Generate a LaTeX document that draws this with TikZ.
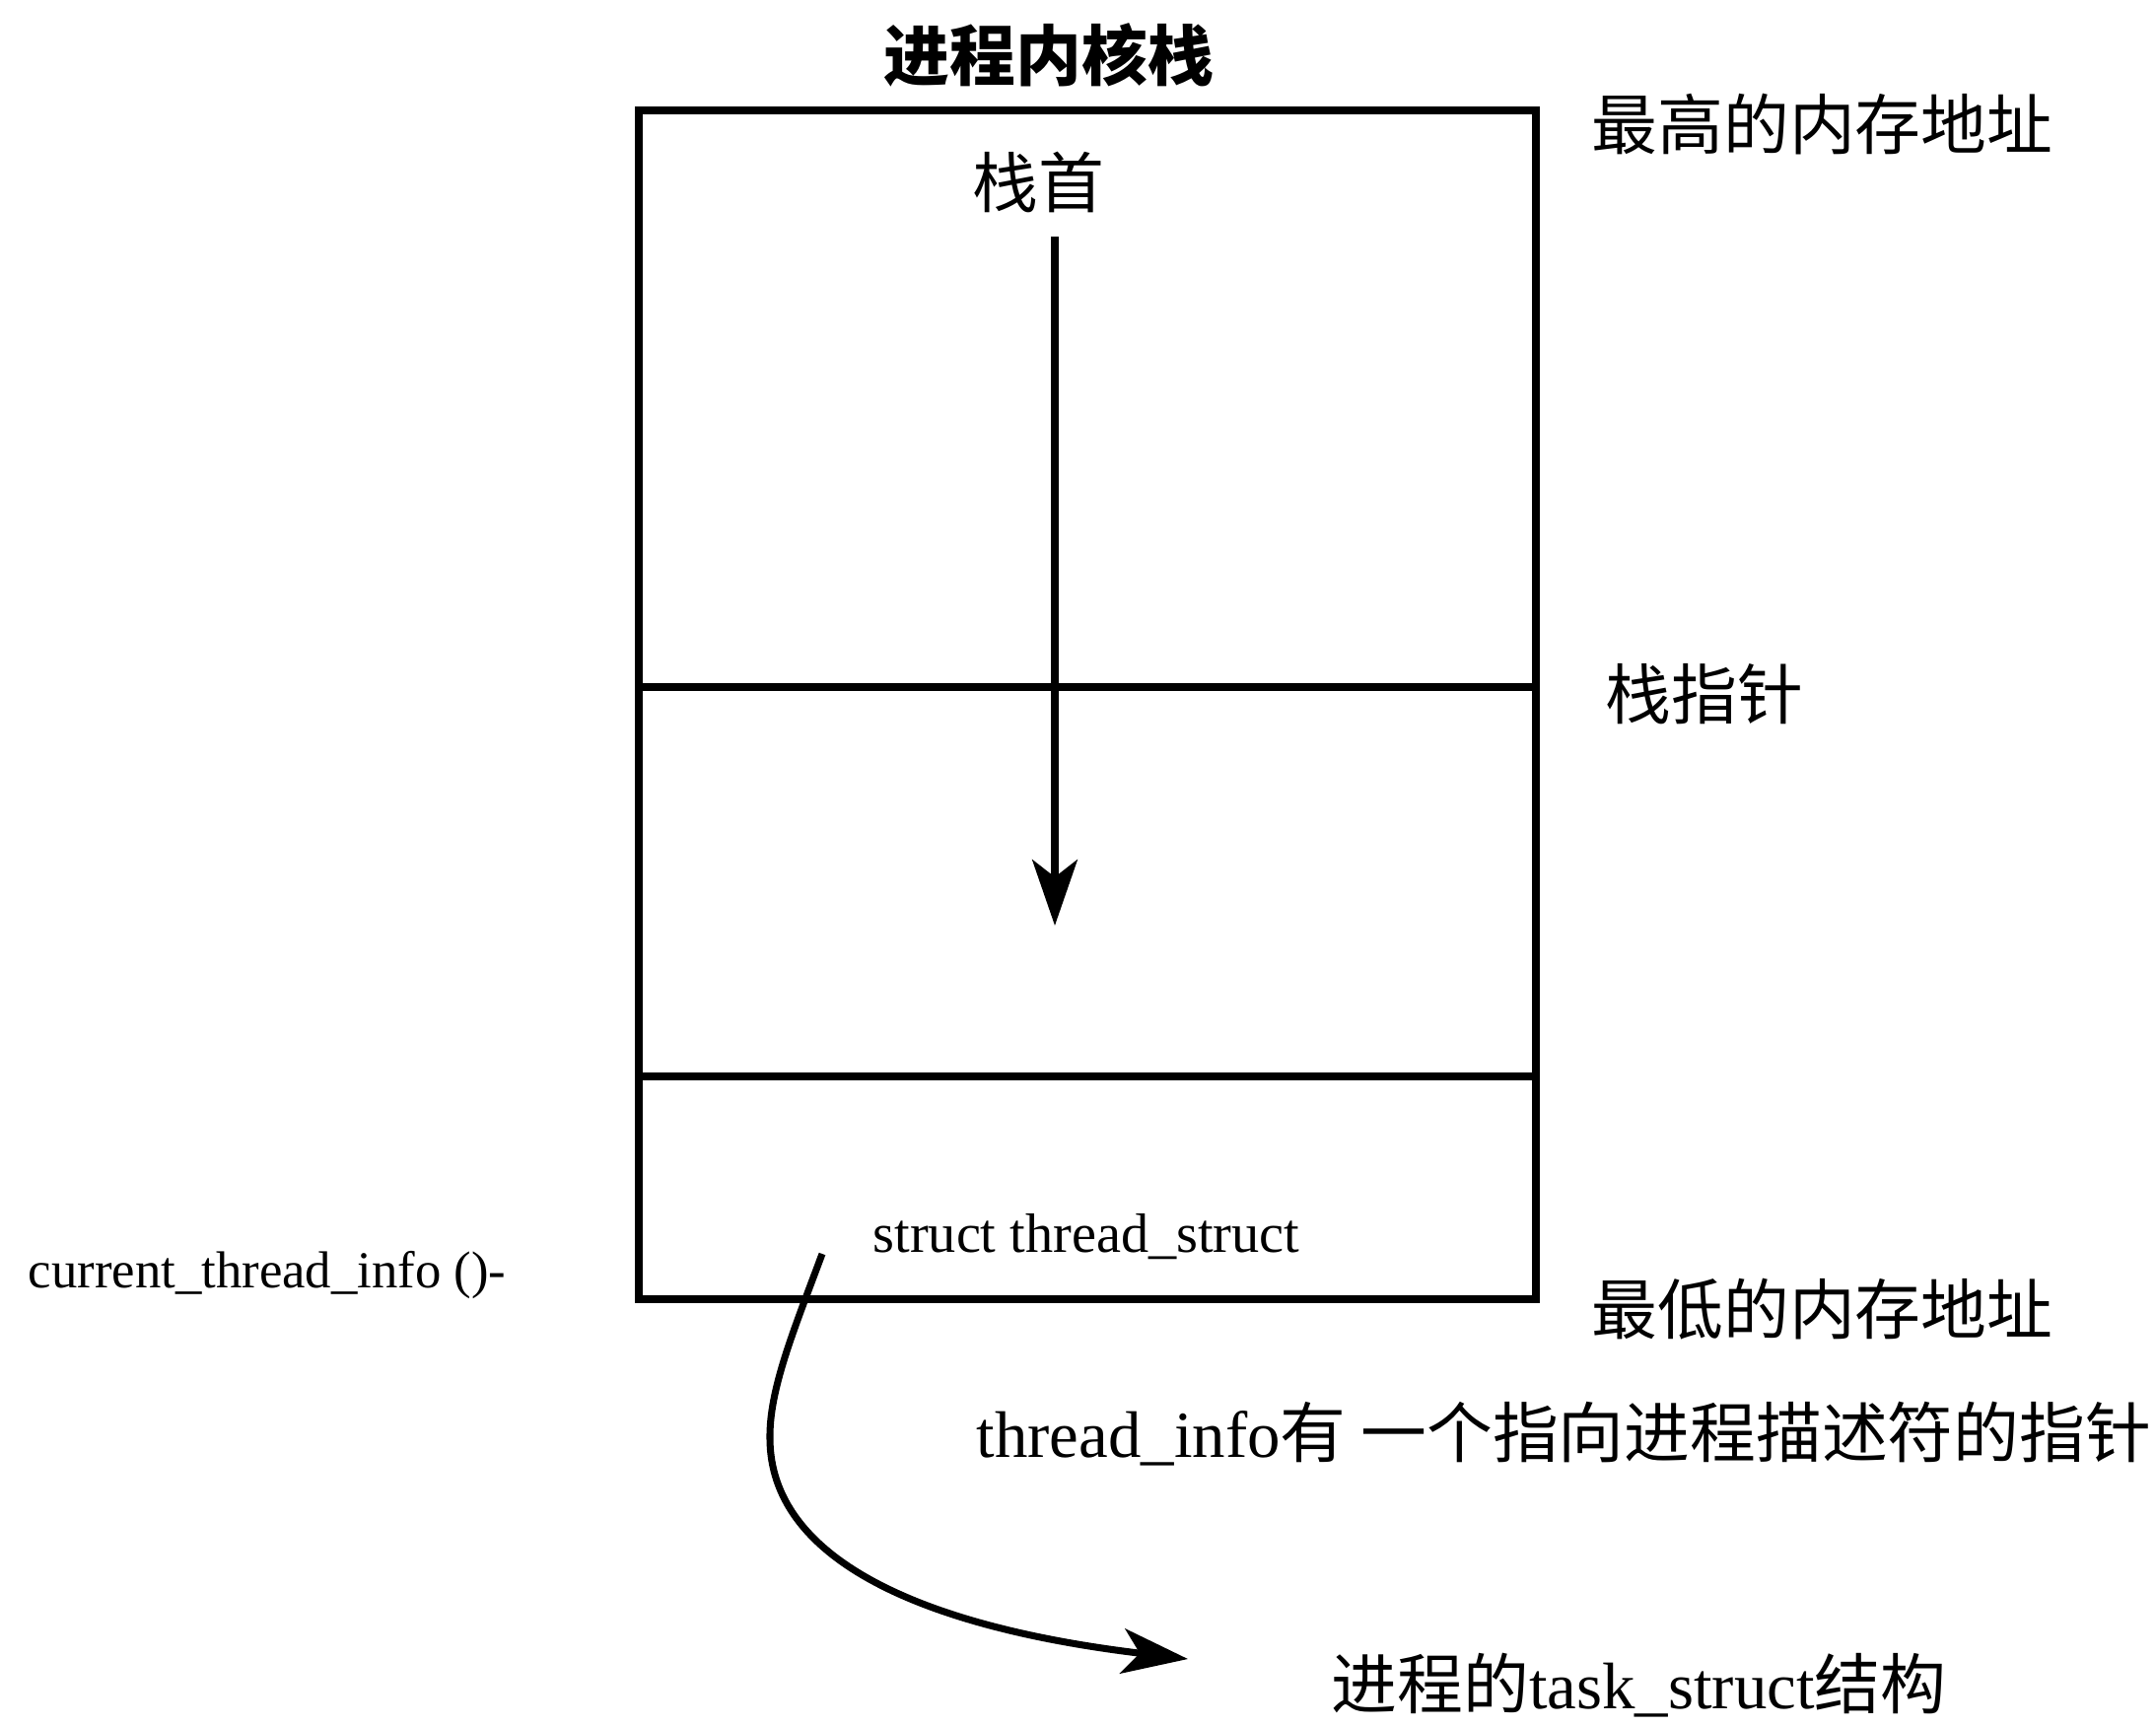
\documentclass[tikz,border=0pt]{standalone}
\usepackage{fontspec}
\setmainfont{Liberation Serif}
\newfontfamily\cjk{Noto Sans CJK SC}
\usetikzlibrary{arrows.meta}
\begin{document}
\begin{tikzpicture}[x=0.01cm,y=-0.01cm,
  boxline/.style={line width=2.2pt},
  arr/.style={line width=2pt,-{Stealth[length=19pt,width=13pt,inset=5pt]}},
  cjklabel/.style={font=\cjk\fontsize{19}{22}\selectfont,inner sep=0pt},
  mixlabel/.style={font=\fontsize{19}{22}\selectfont,inner sep=0pt},
  smalllabel/.style={font=\fontsize{16}{19}\selectfont,inner sep=0pt},
  tinylabel/.style={font=\fontsize{15}{18}\selectfont,inner sep=0pt}]
\useasboundingbox[fill=white] (0,0) rectangle (2187,1750);
% stack box
\draw[boxline] (648,112) rectangle (1558,1318);
\draw[boxline] (648,697) -- (1558,697);
\draw[boxline] (648,1092) -- (1558,1092);
% labels
\node[cjklabel,font=\cjk\bfseries\fontsize{19}{22}\selectfont] (title) at (1064,56) {进程内核栈};
\node[cjklabel] (top) at (1053,185) {栈首};
\node[cjklabel,anchor=west] (high) at (1614,126) {最高的内存地址};
\node[cjklabel,anchor=west] (sp) at (1628,704) {栈指针};
\node[cjklabel,anchor=west] (low) at (1614,1328) {最低的内存地址};
\node[smalllabel] (ts) at (1102,1255) {struct thread\_struct};
\node[tinylabel,anchor=west] (cti) at (28,1294) {current\_thread\_info ()-};
\node[mixlabel,anchor=west] (ptr) at (990,1455) {thread\_info{\cjk 有 一个指向进程描述符的指针}};
\node[mixlabel,anchor=west] (task) at (1350,1710) {{\cjk 进程的}task\_struct{\cjk 结构}};
% growth arrow
\coordinate (sa) at (1070,240);
\coordinate (sb) at (1070,939);
\draw[arr] (sa) -- (sb);
% pointer curve
\coordinate (c0) at (834,1272);
\coordinate (c1) at (781,1460);
\coordinate (c2) at (1205,1683);
\draw[arr] (c0) .. controls (805,1350) and (780,1410) .. (c1)
  .. controls (782,1580) and (930,1650) .. (c2);
\end{tikzpicture}
\end{document}
